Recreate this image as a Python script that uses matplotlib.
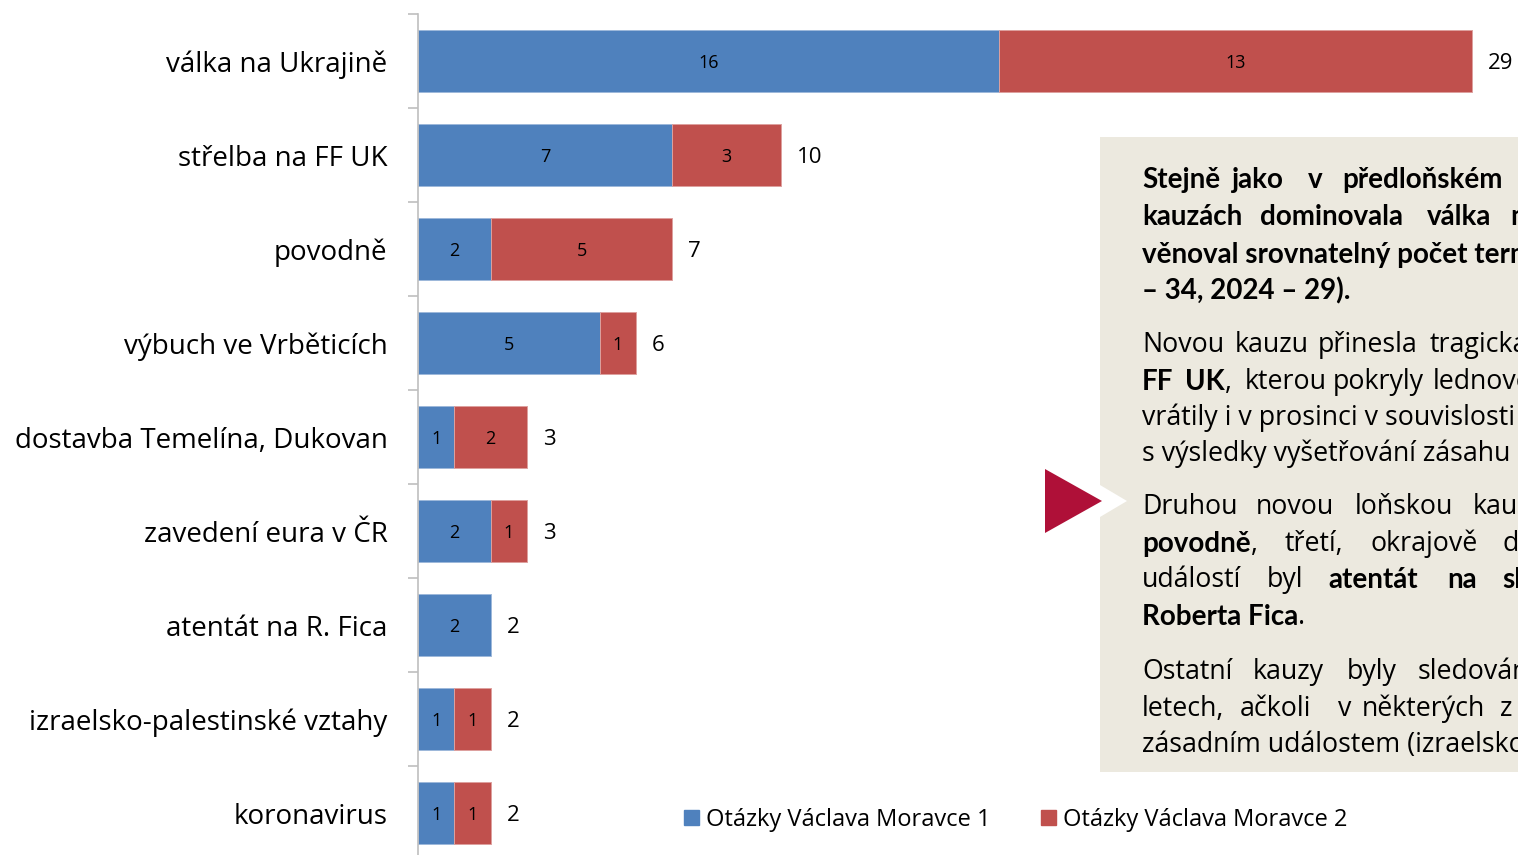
import numpy as np
import matplotlib
matplotlib.use('Agg')
import matplotlib.pyplot as plt
from matplotlib.patches import Rectangle, Polygon, Patch
from matplotlib.text import Annotation

plt.rcParams['font.family'] = ['Open Sans', 'DejaVu Sans']
BOLD_FAMILY = ['Lato', 'DejaVu Sans']

categories = ['válka na Ukrajině', 'střelba na FF UK', 'povodně', 'výbuch ve Vrběticích',
              'dostavba Temelína, Dukovan', 'zavedení eura v ČR', 'atentát na R. Fica',
              'izraelsko-palestinské vztahy', 'koronavirus']
ovm1 = [16, 7, 2, 5, 1, 2, 2, 1, 1]
ovm2 = [13, 3, 5, 1, 2, 1, 0, 1, 1]
series_names = ['Otázky Václava Moravce 1', 'Otázky Václava Moravce 2']

# text of the side box (cut off at the right edge like the original)
# each line: y centre in px, list of (x in px or None = right after previous piece, text, bold)
box_lines = [
    (180, [(1142, 'Stejně', True), (1232, 'jako', True), (1308, 'v', True), (1342, 'předloňském', True)]),
    (217, [(1142, 'kauzách', True), (1260, 'dominovala', True), (1427, 'válka', True), (1510, 'na', True)]),
    (254, [(1142, 'věnoval srovnatelný počet termínů', True)]),
    (291, [(1142, '– 34, 2024 – 29).', True)]),
    (345, [(1142, 'Novou', False), (1235, 'kauzu', False), (1318, 'přinesla', False), (1430, 'tragická', False)]),
    (382, [(1142, 'FF', True), (1185, 'UK', True), (None, ',', False), (1245, 'kterou', False),
           (1333, 'pokryly', False), (1433, 'lednové', False)]),
    (418, [(1142, 'vrátily i v prosinci v souvislosti', False)]),
    (454, [(1142, 's výsledky vyšetřování zásahu', False)]),
    (507, [(1142, 'Druhou', False), (1256, 'novou', False), (1355, 'loňskou', False), (1473, 'kauzou', False)]),
    (544, [(1142, 'povodně', True), (None, ',', False), (1285, 'třetí,', False), (1370, 'okrajově', False),
           (1502, 'do', False)]),
    (580, [(1142, 'událostí', False), (1267, 'byl', False), (1328, 'atentát', True), (1447, 'na', True),
           (1502, 'slovenského', True)]),
    (617, [(1142, 'Roberta Fica', True), (None, '.', False)]),
    (672, [(1142, 'Ostatní', False), (1253, 'kauzy', False), (1347, 'byly', False), (1418, 'sledovány', False)]),
    (709, [(1142, 'letech,', False), (1240, 'ačkoli', False), (1338, 'v', False), (1362, 'některých', False),
           (1500, 'z', False)]),
    (745, [(1142, 'zásadním událostem (izraelsko-palestinské', False)]),
]

W, H = 1518, 855
blue = '#4F81BD'
red = '#C0504D'
grey = '#BFBFBF'


def fx(x):
    return x / W


def fy(y):
    return 1 - y / H


fig = plt.figure(figsize=(W / 100, H / 100), dpi=100)
ax = fig.add_axes([fx(418), fy(860), 1 - fx(418), (860 - 14) / H])

y = np.arange(len(categories))
v1 = np.array(ovm1)
v2 = np.array(ovm2)
totals = v1 + v2

ax.barh(y, v1, height=0.667, color=blue, edgecolor='#9DB8DA', linewidth=0.7)
nz = v2 > 0
ax.barh(y[nz], v2[nz], left=v1[nz], height=0.667, color=red, edgecolor='#DDA09E', linewidth=0.7)

for i in range(len(categories)):
    ax.annotate(str(v1[i]), (v1[i] / 2, i), xytext=(0, -1.5), textcoords='offset points',
                ha='center', va='center', fontsize=13)
    if v2[i] > 0:
        ax.annotate(str(v2[i]), (v1[i] + v2[i] / 2, i), xytext=(0, -1.5), textcoords='offset points',
                    ha='center', va='center', fontsize=13)
    ax.annotate(str(totals[i]), (totals[i], i), xytext=(11.5, -2), textcoords='offset points',
                va='center', ha='left', fontsize=16)

ax.set_xlim(0, 1100 / 36.33)
ax.set_ylim(len(categories) - 0.5, -0.5)
for s in ['top', 'right', 'bottom']:
    ax.spines[s].set_visible(False)
ax.spines['left'].set_color(grey)
ax.spines['left'].set_linewidth(1.2)
ax.set_xticks([])
ax.set_yticks(y, categories)
ax.set_yticks(np.arange(-0.5, len(categories)), minor=True)
ax.tick_params(axis='y', which='major', length=0, pad=22, labelsize=20)
ax.tick_params(axis='y', which='minor', length=7, width=1.2, color=grey)

# side box with arrow
fig.add_artist(Rectangle((fx(1100), fy(772)), 1 - fx(1100), (772 - 137) / H,
                         transform=fig.transFigure, facecolor='#ECE9DF', edgecolor='none'))
fig.add_artist(Polygon([(fx(1100), fy(485)), (fx(1127), fy(501)), (fx(1100), fy(517))],
                       closed=True, transform=fig.transFigure, facecolor='white', edgecolor='none'))
fig.add_artist(Polygon([(fx(1045), fy(469)), (fx(1102), fy(501)), (fx(1045), fy(533))],
                       closed=True, transform=fig.transFigure, facecolor='#AF1038', edgecolor='none'))

for yc, pieces in box_lines:
    prev = None
    for x, s, bold in pieces:
        style = dict(fontsize=20, fontweight='bold', family=BOLD_FAMILY) if bold else dict(fontsize=19.3)
        if x is None:
            prev = fig.add_artist(Annotation(s, xy=(1, 0.5), xycoords=prev, va='center', ha='left',
                                             color='black', **style))
        else:
            prev = fig.text(fx(x), fy(yc), s, va='center', ha='left', color='black', **style)

fig.legend(handles=[Patch(color=blue), Patch(color=red)], labels=series_names,
           loc='center left', bbox_to_anchor=(fx(684), fy(820)), ncol=2, frameon=False,
           fontsize=17, handlelength=0.62, handleheight=0.62, handletextpad=0.3,
           columnspacing=2.15, borderpad=0, borderaxespad=0)

fig.savefig('out.png', dpi=100, facecolor='white')
